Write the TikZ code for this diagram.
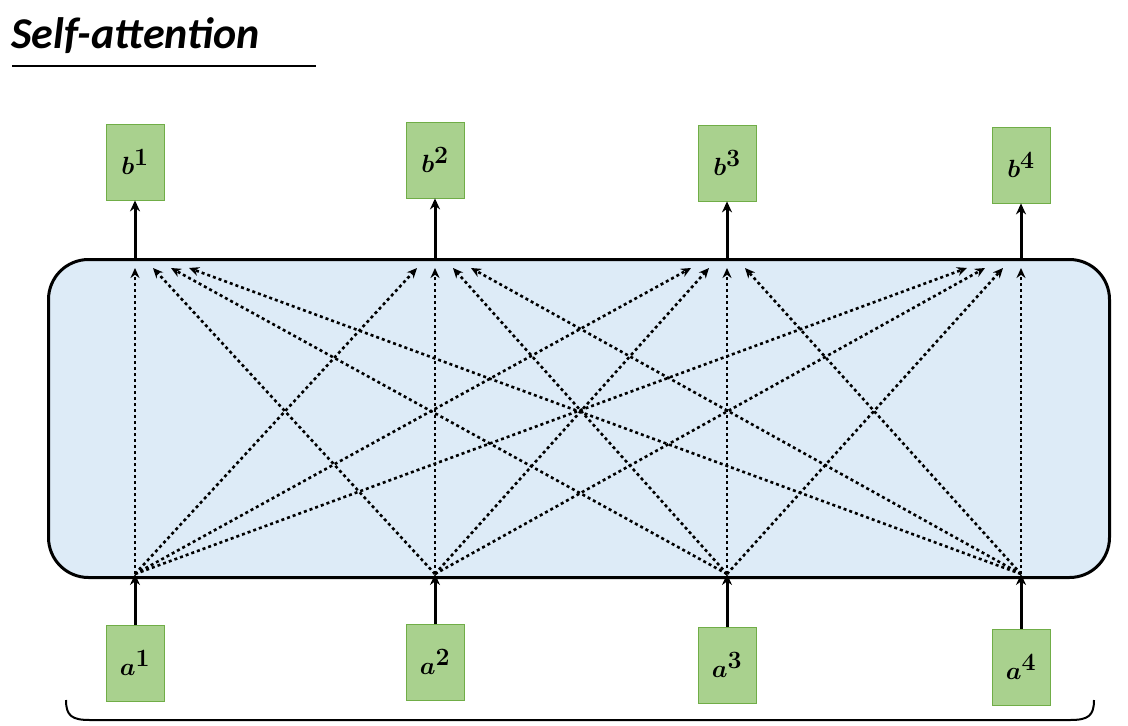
\documentclass[tikz,border=0pt]{standalone}
\usepackage{fontspec}
\setsansfont{Carlito}
\usepackage{amsmath,bm}
\definecolor{boxfill}{HTML}{A9D18E}
\definecolor{boxdraw}{HTML}{70AD47}
\definecolor{safill}{HTML}{DDEBF7}
\begin{document}
\begin{tikzpicture}[x=1pt,y=-1pt,
  box/.style={draw=boxdraw, fill=boxfill, line width=0.8pt, minimum width=58pt, minimum height=76pt, inner sep=0pt, font=\fontsize{38}{40}\selectfont},
  solid arr/.style={-{Stealth[length=11pt,width=10pt]}, line width=3pt},
  dot arr/.style={-{Stealth[length=10pt,width=9pt]}, line width=2.6pt, dash pattern=on 3pt off 3pt}]
\usetikzlibrary{arrows.meta}
\useasboundingbox (0,0) rectangle (1128,726);
\node[anchor=west, font=\sffamily\bfseries\itshape\fontsize{44}{46}\selectfont] (title) at (8,36) {Self-attention};
\draw[line width=1.5pt] (12,66) -- (316,66);
\node[draw, line width=3pt, rounded corners=40pt, fill=safill, minimum width=1061pt, minimum height=318pt, anchor=north west] (sa) at (47,258) {};
\foreach \i/\x/\ty/\by in {1/135/162/663, 2/435/160/662, 3/727/163/665, 4/1021/165/667}{
  \node[box] (b\i) at (\x,\ty) {$\bm{b}^{\bm{\i}}$};
  \node[box] (a\i) at (\x,\by) {$\bm{a}^{\bm{\i}}$};
  \coordinate (t\i) at (\x,258);
  \coordinate (s\i) at (\x,574);
  \draw[solid arr] (t\i) -- (b\i.south);
  \draw[solid arr] (a\i.north) -- (s\i);
}
\foreach \i/\xi in {1/135,2/435,3/727,4/1021}{
  \foreach \j/\xj in {1/135,2/435,3/727,4/1021}{
    \pgfmathsetmacro{\off}{18*(\i-\j)}
    \coordinate (e\i\j) at (\xj+\off,268);
    \draw[dot arr] (s\i) -- (e\i\j);
  }
}
\draw[line width=2pt] (66,700) .. controls (66,716) and (72,720) .. (90,720) -- (1070,720) .. controls (1088,720) and (1094,716) .. (1094,700);
\end{tikzpicture}
\end{document}
